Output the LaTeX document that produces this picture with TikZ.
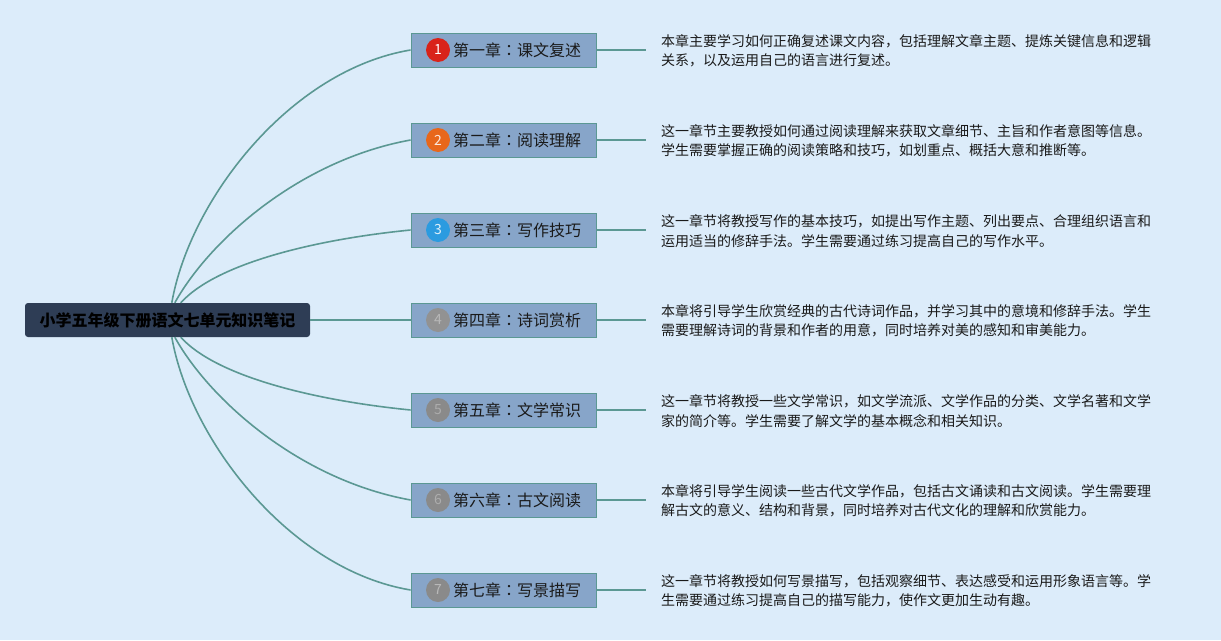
\documentclass[tikz,border=0pt]{standalone}
\usepackage{fontspec}
\setmainfont{Noto Sans CJK SC}
\newfontfamily\cjk{Noto Sans CJK SC}
\newfontfamily\cjktc{Noto Sans CJK TC}
\usetikzlibrary{positioning}
\definecolor{bgc}{HTML}{DCECFA}
\definecolor{rootc}{HTML}{2E3D55}
\definecolor{chapc}{HTML}{87A5C9}
\definecolor{linec}{HTML}{5B9893}
\definecolor{txtc}{HTML}{1A1A1A}
\definecolor{ic1}{HTML}{D9231A}
\definecolor{ic2}{HTML}{E8671B}
\definecolor{ic3}{HTML}{2B9BE0}
\definecolor{ic4}{HTML}{929292}
\definecolor{icg}{HTML}{8A8A8A}
\newcommand{\mycolon}{{\cjktc ：}}
\tikzset{
  rootbox/.style={draw=none,fill=rootc,rounded corners=3pt,minimum width=285pt,minimum height=34pt,inner sep=0pt,font=\cjk\bfseries\fontsize{16}{18}\selectfont,text=black},
  chapbox/.style={draw=linec,line width=0.8pt,fill=chapc,minimum width=185pt,minimum height=34pt,inner sep=0pt},
  chaptext/.style={anchor=west,inner sep=0pt,font=\cjk\fontsize{16}{18}\selectfont,text=txtc},
  icon/.style={circle,minimum size=24pt,inner sep=0pt,font=\fontsize{14}{14}\selectfont},
  desc/.style={anchor=west,inner sep=0pt,align=left,font=\cjk\fontsize{14}{19.5}\selectfont,text=txtc},
  conn/.style={draw=linec,line width=1.6pt}
}
\begin{document}
\begin{tikzpicture}[x=1pt,y=-1pt]
\fill[bgc] (0,0) rectangle (1221,640);
\useasboundingbox (0,0) rectangle (1221,640);

\node[rootbox] (root) at (167.5,320) {小学五年级下册语文七单元知识笔记};

\foreach \i/\y in {1/50,2/140,3/230,4/320,5/410,6/500,7/590}{
  \node[chapbox] (c\i) at (503.5,\y) {};
  \coordinate (e\i) at (646,\y);
}
\node[icon,fill=ic1,text=white] (n1) at (438,50) {1};
\node[icon,fill=ic2,text=white!85!ic2] (n2) at (438,140) {2};
\node[icon,fill=ic3,text=white!85!ic3] (n3) at (438,230) {3};
\node[icon,fill=ic4,text=white!35!ic4] (n4) at (438,320) {4};
\node[icon,fill=icg,text=white!30!icg] (n5) at (438,410) {5};
\node[icon,fill=icg,text=white!30!icg] (n6) at (438,500) {6};
\node[icon,fill=icg,text=white!40!icg] (n7) at (438,590) {7};

\node[chaptext] (t1) at (453,50) {第一章\mycolon 课文复述};
\node[chaptext] (t2) at (453,140) {第二章\mycolon 阅读理解};
\node[chaptext] (t3) at (453,230) {第三章\mycolon 写作技巧};
\node[chaptext] (t4) at (453,320) {第四章\mycolon 诗词赏析};
\node[chaptext] (t5) at (453,410) {第五章\mycolon 文学常识};
\node[chaptext] (t6) at (453,500) {第六章\mycolon 古文阅读};
\node[chaptext] (t7) at (453,590) {第七章\mycolon 写景描写};

% connectors root -> chapters
\draw[conn] ([xshift=147pt]root.north west) .. controls +(18,-103) and (290,70) .. (c1.west);
\draw[conn] ([xshift=150pt]root.north west) .. controls +(35,-63) and (300,160) .. (c2.west);
\draw[conn] ([xshift=156pt]root.north west) .. controls +(34,-38) and (310,240) .. (c3.west);
\draw[conn] (root.east) -- (c4.west);
\draw[conn] ([xshift=156pt]root.south west) .. controls +(34,38) and (310,400) .. (c5.west);
\draw[conn] ([xshift=150pt]root.south west) .. controls +(35,63) and (300,480) .. (c6.west);
\draw[conn] ([xshift=147pt]root.south west) .. controls +(18,103) and (290,570) .. (c7.west);

\foreach \i in {1,...,7}{ \draw[conn] (c\i.east) -- (e\i); }

\node[desc] (d1) at (661,51) {本章主要学习如何正确复述课文内容，包括理解文章主题、提炼关键信息和逻辑\\关系，以及运用自己的语言进行复述。};
\node[desc] (d2) at (661,141) {这一章节主要教授如何通过阅读理解来获取文章细节、主旨和作者意图等信息。\\学生需要掌握正确的阅读策略和技巧，如划重点、概括大意和推断等。};
\node[desc] (d3) at (661,231) {这一章节将教授写作的基本技巧，如提出写作主题、列出要点、合理组织语言和\\运用适当的修辞手法。学生需要通过练习提高自己的写作水平。};
\node[desc] (d4) at (661,321) {本章将引导学生欣赏经典的古代诗词作品，并学习其中的意境和修辞手法。学生\\需要理解诗词的背景和作者的用意，同时培养对美的感知和审美能力。};
\node[desc] (d5) at (661,411) {这一章节将教授一些文学常识，如文学流派、文学作品的分类、文学名著和文学\\家的简介等。学生需要了解文学的基本概念和相关知识。};
\node[desc] (d6) at (661,501) {本章将引导学生阅读一些古代文学作品，包括古文诵读和古文阅读。学生需要理\\解古文的意义、结构和背景，同时培养对古代文化的理解和欣赏能力。};
\node[desc] (d7) at (661,591) {这一章节将教授如何写景描写，包括观察细节、表达感受和运用形象语言等。学\\生需要通过练习提高自己的描写能力，使作文更加生动有趣。};
\end{tikzpicture}
\end{document}
